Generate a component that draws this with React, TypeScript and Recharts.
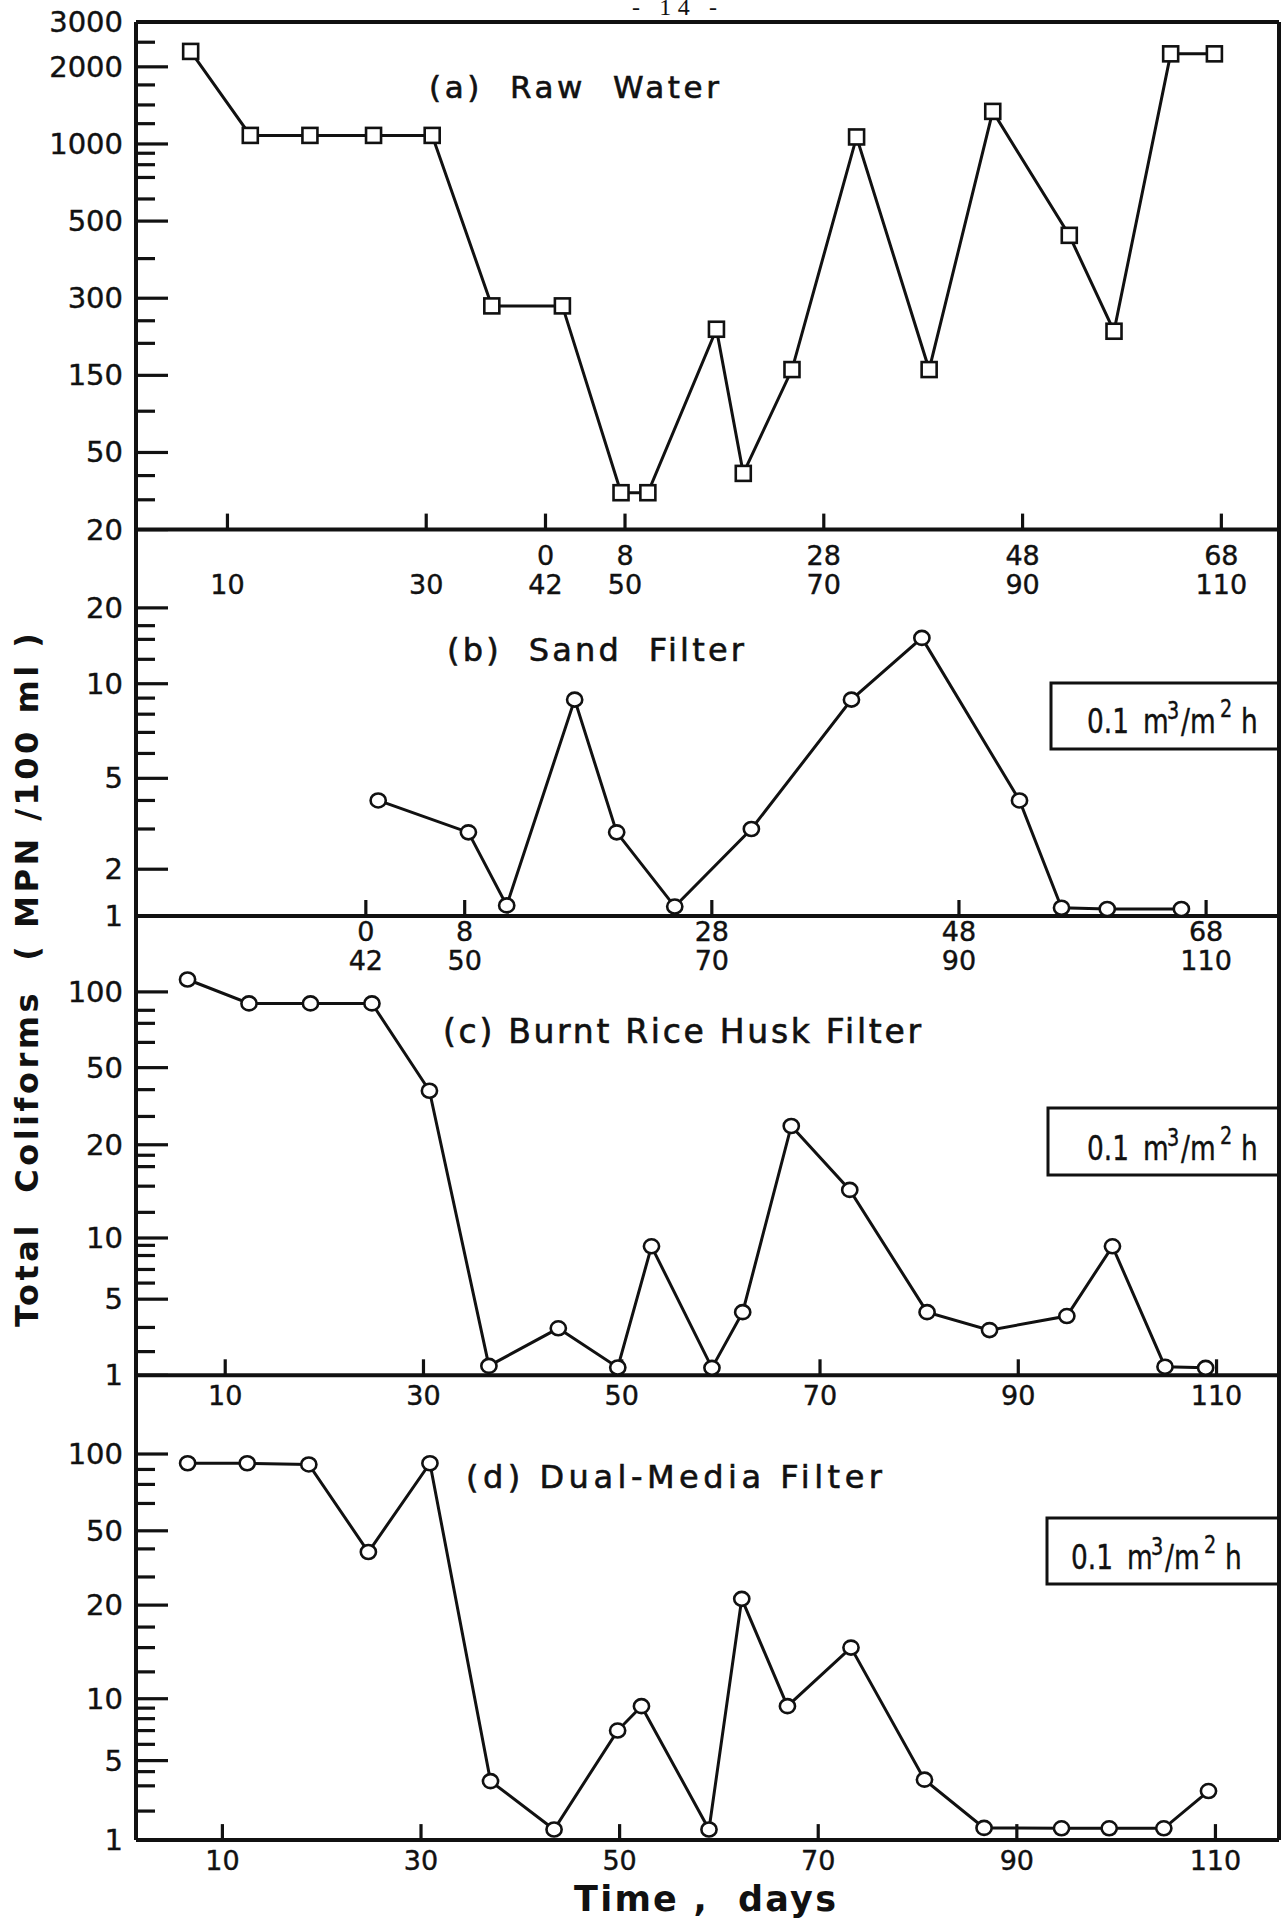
import React from 'react';
import { LineChart, Line, XAxis, YAxis } from 'recharts';

const PAGE_W = 1282;
const PAGE_H = 1923;
const FONT = '"DejaVu Sans", sans-serif';
const INK = '#111';

// ---------------- data (day, MPN/100 ml) ----------------
const rawDays = [6.3, 12.3, 18.3, 24.7, 30.6, 36.6, 43.7, 49.6, 52.3, 59.2, 61.9, 66.8, 73.3, 80.6, 87.0, 94.7, 99.2, 104.9, 109.3];
const rawCounts = [2300, 1080, 1080, 1080, 1080, 280, 280, 31, 31, 227, 39, 158, 1065, 158, 1340, 455, 223, 2250, 2250];

const sandDays = [43.0, 50.3, 53.4, 58.9, 62.3, 67.0, 73.2, 81.3, 87.0, 94.9, 98.3, 102.0, 108.0];
const sandCounts = [4.0, 2.9, 1.17, 8.9, 2.9, 1.15, 3.0, 8.9, 15.2, 4.0, 1.13, 1.11, 1.11];

const huskDays = [6.2, 12.4, 18.6, 24.8, 30.6, 36.6, 43.6, 49.6, 53.0, 59.1, 62.2, 67.1, 73.0, 80.8, 87.1, 94.9, 99.5, 104.8, 108.9];
const huskCounts = [112, 90, 90, 90, 38, 1.22, 2.7, 1.18, 9.1, 1.17, 3.8, 25, 14.3, 3.8, 2.6, 3.5, 9.1, 1.2, 1.17];

const dualDays = [6.5, 12.5, 18.7, 24.7, 30.9, 37.0, 43.4, 49.8, 52.2, 59.0, 62.3, 66.9, 73.3, 80.7, 86.7, 94.5, 99.3, 104.8, 109.3];
const dualCounts = [92, 92, 91, 38.5, 92, 3.3, 1.24, 7.0, 9.2, 1.24, 21.6, 9.2, 14.6, 3.4, 1.28, 1.27, 1.27, 1.27, 2.7];

// ---------------- axis tick values / labels ----------------
const rawMajor = [20, 50, 150, 300, 500, 1000, 2000, 3000];
const rawMajorLabels = ['20', '50', '150', '300', '500', '1000', '2000', '3000'];
const rawMinor = [2500, 1700, 1420, 1200, 920, 830, 740, 610, 390, 245, 200, 90, 38, 28.5];

const sandMajor = [1, 2, 5, 10, 20];
const sandMajorLabels = ['1', '2', '5', '10', '20'];
const sandMinor = [17, 15, 12.5, 9, 8, 7, 6, 4, 3];

const filtMajor = [1, 5, 10, 20, 50, 100];
const filtMajorLabels = ['1', '5', '10', '20', '50', '100'];
const huskMinor = [84.5, 75, 63, 38.5, 28, 18.5, 17, 14.7, 12.1, 9.2, 8.2, 7, 6, 2.75, 1.65];
const dualMinor = [87, 76, 64, 40, 28.3, 17, 14.6, 12.2, 9, 8, 7, 6, 4, 3, 1.8];

const dayTicksA = [10, 30, 42, 50, 70, 90, 110];
const dayTopA = ['', '', '0', '8', '28', '48', '68'];
const dayBottomA = ['10', '30', '42', '50', '70', '90', '110'];
const dayTicksB = [42, 50, 70, 90, 110];
const dayTopB = ['0', '8', '28', '48', '68'];
const dayBottomB = ['42', '50', '70', '90', '110'];
const dayTicksCD = [10, 30, 50, 70, 90, 110];
const dayLabelsCD = ['10', '30', '50', '70', '90', '110'];

// hand-drawn (piecewise logarithmic) vertical scales: value breakpoints -> divisions
type Scale = { vals: number[]; pos: number[]; top: number };
const rawScale: Scale = { vals: [20, 50, 150, 300, 500, 1000, 2000, 3000], pos: [0, 1, 2, 3, 4, 5, 6, 6.58], top: 6.58 };
const sandScale: Scale = { vals: [1, 2, 5, 10, 20], pos: [0, 0.504, 1.483, 2.502, 3.319], top: 4.173 };
const huskScale: Scale = { vals: [1, 5, 10, 20, 50, 100], pos: [0, 0.993, 1.791, 3.007, 4.013, 5.001], top: 6.004 };
const dualScale: Scale = { vals: [1, 5, 10, 20, 50, 100], pos: [0, 1.03, 1.832, 3.045, 4.008, 5.003], top: 6.036 };

function toPos(v: number, s: Scale): number {
  const n = s.vals.length;
  let i = 0;
  while (i < n - 2 && v > s.vals[i + 1]) i++;
  const l0 = Math.log(s.vals[i]);
  const l1 = Math.log(s.vals[i + 1]);
  return s.pos[i] + ((Math.log(v) - l0) / (l1 - l0)) * (s.pos[i + 1] - s.pos[i]);
}

type PanelCfg = {
  days: number[];
  values: number[];
  scale: Scale;
  major: number[];
  majorLabels: string[];
  minor: number[];
  xDomain: [number, number];
  xTicks: number[];
  xTop: string[] | null;
  xBottom: string[];
  topOff: number;
  botOff: number;
  plotTop: number;
  plotBottom: number;
  marker: 'square' | 'circle';
  topBorder: boolean;
};

const panels: PanelCfg[] = [
  {
    days: rawDays, values: rawCounts, scale: rawScale, major: rawMajor, majorLabels: rawMajorLabels, minor: rawMinor,
    xDomain: [0.8, 115.8], xTicks: dayTicksA, xTop: dayTopA, xBottom: dayBottomA, topOff: 26, botOff: 55,
    plotTop: 22.1, plotBottom: 528.6, marker: 'square', topBorder: true,
  },
  {
    days: sandDays, values: sandCounts, scale: sandScale, major: sandMajor, majorLabels: sandMajorLabels, minor: sandMinor,
    xDomain: [23.4, 115.9], xTicks: dayTicksB, xTop: dayTopB, xBottom: dayBottomB, topOff: 15, botOff: 44,
    plotTop: 528.6, plotBottom: 915, marker: 'circle', topBorder: false,
  },
  {
    days: huskDays, values: huskCounts, scale: huskScale, major: filtMajor, majorLabels: filtMajorLabels, minor: huskMinor,
    xDomain: [1.0, 116.3], xTicks: dayTicksCD, xTop: null, xBottom: dayLabelsCD, topOff: 0, botOff: 20,
    plotTop: 915, plotBottom: 1374.3, marker: 'circle', topBorder: false,
  },
  {
    days: dualDays, values: dualCounts, scale: dualScale, major: filtMajor, majorLabels: filtMajorLabels, minor: dualMinor,
    xDomain: [1.3, 116.4], xTicks: dayTicksCD, xTop: null, xBottom: dayLabelsCD, topOff: 0, botOff: 20,
    plotTop: 1374.3, plotBottom: 1839.1, marker: 'circle', topBorder: false,
  },
];

const AXIS_STYLE = { stroke: INK, strokeWidth: 4 };
const TICK_STYLE = { stroke: INK, strokeWidth: 3.2 };
const LEFT = 138;
const RIGHT = 1279;
const emptyTick = () => <g />;

function Panel({ cfg }: { cfg: PanelCfg }) {
  const data = cfg.days.map((d, i) => ({ day: d, count: cfg.values[i] }));
  const majorPos = cfg.major.map((v) => toPos(v, cfg.scale));
  const minorPos = cfg.minor.map((v) => toPos(v, cfg.scale));
  const yDomain: [number, number] = [0, cfg.scale.top];

  const yLabel = (p: any) => {
    const { x, y, payload } = p;
    const idx = majorPos.findIndex((m) => Math.abs(m - payload.value) < 1e-9);
    if (idx < 0) return <g />;
    return (
      <text x={x} y={y} textAnchor="end" dominantBaseline="central" fontFamily={FONT} fontSize={29} fill={INK} stroke={INK} strokeWidth={0.4}>
        {cfg.majorLabels[idx]}
      </text>
    );
  };

  const xLabel = (p: any) => {
    const { x, y, payload } = p;
    const idx = cfg.xTicks.findIndex((t) => Math.abs(t - payload.value) < 1e-9);
    const top = cfg.xTop ? cfg.xTop[idx] : '';
    return (
      <g>
        {top !== '' && (
          <text x={x} y={y + cfg.topOff} textAnchor="middle" dominantBaseline="central" fontFamily={FONT} fontSize={27} fill={INK} stroke={INK} strokeWidth={0.4}>
            {top}
          </text>
        )}
        <text x={x} y={y + cfg.botOff} textAnchor="middle" dominantBaseline="central" fontFamily={FONT} fontSize={27} fill={INK} stroke={INK} strokeWidth={0.4}>
          {cfg.xBottom[idx]}
        </text>
      </g>
    );
  };

  const dot = (p: any) => {
    const { cx, cy, index } = p;
    if (cfg.marker === 'square') {
      return <rect key={`d${index}`} x={cx - 7.5} y={cy - 7.5} width={15} height={15} fill="#fff" stroke={INK} strokeWidth={2.6} />;
    }
    return <ellipse key={`d${index}`} cx={cx} cy={cy} rx={7.6} ry={7} fill="#fff" stroke={INK} strokeWidth={2.6} />;
  };

  const nTop = cfg.topBorder ? 1 : 0;

  return (
    <div style={{ position: 'absolute', left: 0, top: 0 }}>
      <LineChart
        width={PAGE_W}
        height={PAGE_H}
        data={data}
        margin={{ top: cfg.plotTop - nTop, bottom: PAGE_H - cfg.plotBottom - 2, left: LEFT - 3, right: PAGE_W - RIGHT - 1 }}
      >
        {/* bottom axis: line + labels */}
        <XAxis
          dataKey="day"
          type="number"
          domain={cfg.xDomain}
          allowDataOverflow
          ticks={cfg.xTicks}
          interval={0}
          height={1}
          tickSize={0}
          tickMargin={0}
          tickLine={false}
          axisLine={AXIS_STYLE}
          tick={xLabel}
        />
        {/* bottom axis: inward tick marks */}
        <XAxis
          xAxisId="xticks"
          dataKey="day"
          type="number"
          domain={cfg.xDomain}
          allowDataOverflow
          ticks={cfg.xTicks}
          interval={0}
          height={1}
          mirror
          tickSize={16}
          tickLine={TICK_STYLE}
          axisLine={false}
          tick={emptyTick}
        />
        {cfg.topBorder && (
          <XAxis
            xAxisId="top"
            orientation="top"
            dataKey="day"
            type="number"
            domain={cfg.xDomain}
            allowDataOverflow
            height={1}
            tick={false}
            tickLine={false}
            axisLine={AXIS_STYLE}
          />
        )}
        {/* left axis: line + labels */}
        <YAxis
          type="number"
          domain={yDomain}
          allowDataOverflow
          ticks={majorPos}
          interval={0}
          width={1}
          tickSize={0}
          tickMargin={13}
          tickLine={false}
          axisLine={AXIS_STYLE}
          tick={yLabel}
        />
        {/* left axis: inward major tick marks */}
        <YAxis
          yAxisId="major"
          type="number"
          domain={yDomain}
          allowDataOverflow
          ticks={majorPos}
          interval={0}
          width={1}
          mirror
          tickSize={32}
          tickLine={TICK_STYLE}
          axisLine={false}
          tick={emptyTick}
        />
        {/* left axis: inward minor tick marks */}
        <YAxis
          yAxisId="minor"
          type="number"
          domain={yDomain}
          allowDataOverflow
          ticks={minorPos}
          interval={0}
          width={1}
          mirror
          tickSize={18}
          tickLine={TICK_STYLE}
          axisLine={false}
          tick={emptyTick}
        />
        <YAxis
          yAxisId="right"
          orientation="right"
          type="number"
          domain={[0, 1]}
          allowDataOverflow
          width={1}
          tick={false}
          tickLine={false}
          axisLine={AXIS_STYLE}
        />
        <Line
          dataKey={(d: any) => toPos(d.count, cfg.scale)}
          stroke={INK}
          strokeWidth={3}
          dot={dot}
          activeDot={false}
          isAnimationActive={false}
        />
      </LineChart>
    </div>
  );
}

function RateBox({ left, top, height, textLeft, base }: { left: number; top: number; height: number; textLeft: number; base: number }) {
  const right = RIGHT;
  const k = 0.8;
  return (
    <g>
      <polyline points={`${right},${top} ${left},${top} ${left},${top + height} ${right},${top + height}`} fill="none" stroke={INK} strokeWidth={3} />
      <g transform={`translate(${textLeft},${top + base}) scale(${k},1)`}>
        <text y={0} fontFamily={FONT} fontSize={33} fill={INK} stroke={INK} strokeWidth={0.4}>
          <tspan x={0}>0.1</tspan>
          <tspan x={56 / k}>m</tspan>
          <tspan x={80 / k} dy={-14} fontSize={24}>3</tspan>
          <tspan x={94 / k} dy={14}>/m</tspan>
          <tspan x={133 / k} dy={-16} fontSize={24}>2</tspan>
          <tspan x={154 / k} dy={16}>h</tspan>
        </text>
      </g>
    </g>
  );
}

function Overlay() {
  const titleStyle = { fontFamily: FONT, fill: INK, stroke: INK, strokeWidth: 0.6, whiteSpace: 'pre' as const };
  return (
    <svg width={PAGE_W} height={PAGE_H} style={{ position: 'absolute', left: 0, top: 0, pointerEvents: 'none' }}>
      <text x={632} y={15} fontFamily='"Liberation Serif", serif' fontSize={24} fill={INK} textLength={85} lengthAdjust="spacing">- 14 -</text>

      <text x={429} y={87} dominantBaseline="central" fontSize={31} textLength={290} lengthAdjust="spacing" style={titleStyle}>(a)  Raw  Water</text>
      <text x={447} y={650} dominantBaseline="central" fontSize={32} textLength={297} lengthAdjust="spacing" style={titleStyle}>(b)  Sand  Filter</text>
      <text x={443} y={1031} dominantBaseline="central" fontSize={33} textLength={478} lengthAdjust="spacing" style={titleStyle}>(c) Burnt Rice Husk Filter</text>
      <text x={466} y={1477} dominantBaseline="central" fontSize={32} textLength={416} lengthAdjust="spacing" style={titleStyle}>(d) Dual-Media Filter</text>

      <RateBox left={1051} top={683} height={66} textLeft={1087} base={50} />
      <RateBox left={1048} top={1108} height={67} textLeft={1087} base={52} />
      <RateBox left={1047} top={1518} height={66} textLeft={1071} base={51} />

      <text
        transform="translate(27,980) rotate(-90)"
        textAnchor="middle"
        dominantBaseline="central"
        fontWeight="bold"
        fontSize={32}
        textLength={694}
        lengthAdjust="spacing"
        style={{ ...titleStyle, strokeWidth: 0 }}
      >
        Total  Coliforms  ( MPN /100 ml )
      </text>
      <text x={574} y={1899} dominantBaseline="central" fontWeight="bold" fontSize={35} textLength={262} lengthAdjust="spacing" style={{ ...titleStyle, strokeWidth: 0 }}>
        Time ,  days
      </text>
    </svg>
  );
}

export default function App() {
  return (
    <div style={{ position: 'absolute', left: 0, top: 0, width: PAGE_W, height: PAGE_H, background: '#fff', overflow: 'hidden' }}>
      {panels.map((cfg, i) => (
        <Panel key={i} cfg={cfg} />
      ))}
      <Overlay />
    </div>
  );
}
